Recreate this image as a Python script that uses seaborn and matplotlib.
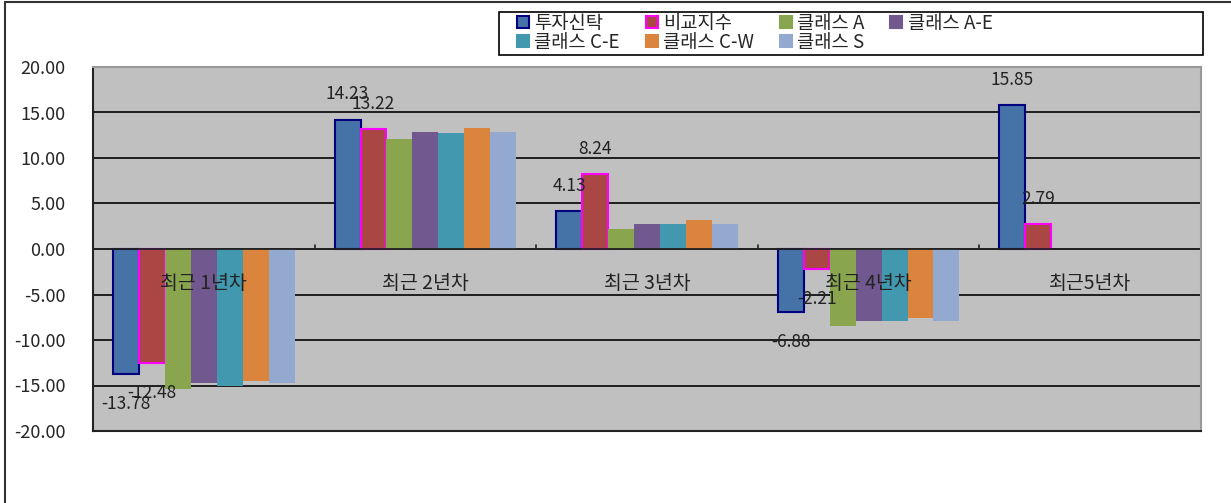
import numpy as np
import pandas as pd
import matplotlib
matplotlib.use("Agg")
import matplotlib.pyplot as plt
import seaborn as sns
from matplotlib.lines import Line2D
from matplotlib.patches import Rectangle

# 데이터
periods = ["최근 1년차", "최근 2년차", "최근 3년차", "최근 4년차", "최근5년차"]
series_names = ["투자신탁", "비교지수", "클래스 A", "클래스 A-E",
                "클래스 C-E", "클래스 C-W", "클래스 S"]
fund = [-13.78, 14.23, 4.13, -6.88, 15.85]
bench = [-12.48, 13.22, 8.24, -2.21, 2.79]
class_a = [-15.4, 12.1, 2.2, -8.5, np.nan]
class_ae = [-14.7, 12.9, 2.8, -7.9, np.nan]
class_ce = [-15.0, 12.7, 2.8, -7.9, np.nan]
class_cw = [-14.5, 13.3, 3.2, -7.55, np.nan]
class_s = [-14.7, 12.9, 2.8, -7.9, np.nan]
yticks = [-20, -15, -10, -5, 0, 5, 10, 15, 20]

colors = ["#4572A7", "#AA4643", "#89A54E", "#71588F",
          "#4198AF", "#DB843D", "#93A9CF"]
edges = ["#000080", "#FF00FF", None, None, None, None, None]

all_series = [fund, bench, class_a, class_ae, class_ce, class_cw, class_s]
df = pd.DataFrame([
    {"period": p, "series": s, "value": v}
    for s, vals in zip(series_names, all_series)
    for p, v in zip(periods, vals)
])

sns.set_style("white")
plt.rcParams["font.family"] = ["Noto Sans CJK KR", "DejaVu Sans"]

fig = plt.figure(figsize=(12.31, 5.03), dpi=100)
W, H = 1231, 503
ax = fig.add_axes([93 / W, 1 - 431 / H, (1201 - 93) / W, (431 - 67) / H])
ax.set_facecolor("#C0C0C0")

sns.barplot(data=df, x="period", y="value", hue="series",
            order=periods, hue_order=series_names, palette=colors,
            width=0.82, saturation=1, ax=ax, legend=False)

for cont, ec in zip(ax.containers, edges):
    for bar in cont:
        if ec:
            bar.set_edgecolor(ec)
            bar.set_linewidth(1.5)
        else:
            bar.set_linewidth(0)

# 데이터 레이블 (투자신탁, 비교지수)
for cont, vals in zip(ax.containers[:2], [fund, bench]):
    for bar, v in zip(cont, vals):
        x = bar.get_x() + bar.get_width() / 2
        off = 2.75 if v >= 0 else -3.3
        ax.text(x, v + off, f"{v:.2f}", ha="center", va="center",
                fontsize=12.5, color="#222222")

ax.set_ylim(-20, 20)
ax.set_xlim(-0.5, len(periods) - 0.5)
ax.set_yticks(yticks)
ax.set_yticklabels([f"{t:.2f}" for t in yticks], fontsize=13)
ax.yaxis.grid(True, color="#111111", linewidth=1.3)
ax.set_axisbelow(True)
ax.set_xlabel("")
ax.set_ylabel("")
ax.set_xticks([])
ax.tick_params(axis="y", length=0, pad=20)

# 카테고리 축 (0 위치)
ax.axhline(0, color="#222222", linewidth=1.3, zorder=1)
for i, p in enumerate(periods):
    ax.text(i, -3.8, p, ha="center", va="center", fontsize=14,
            color="#222222", zorder=5)
for b in np.arange(0.5, len(periods) - 0.5, 1):
    ax.plot([b, b], [0, 0.4], color="#222222", linewidth=1.2, zorder=1)

for side in ["top", "right"]:
    ax.spines[side].set_color("#999999")
    ax.spines[side].set_linewidth(1.5)
for side in ["left", "bottom"]:
    ax.spines[side].set_color("#222222")
    ax.spines[side].set_linewidth(1.5)

# 범례 (행 우선 순서) + 테두리 상자
handles = [Line2D([0], [0], marker="s", linestyle="none", markersize=8,
                  markerfacecolor=c, markeredgecolor=(e if e else c),
                  markeredgewidth=1.5)
           for c, e in zip(colors, edges)]
order = [0, 4, 1, 5, 2, 6, 3]
fig.legend([handles[i] for i in order],
           [series_names[i] for i in order], ncol=4, fontsize=13.5,
           loc="upper left", bbox_to_anchor=(511 / W, 1 - 10 / H),
           frameon=False, borderpad=0.15, labelspacing=-0.1,
           handletextpad=0.1, handlelength=1.0, columnspacing=1.2,
           borderaxespad=0)
fig.add_artist(Rectangle((499 / W, 1 - 55 / H), 704 / W, 43 / H,
                         transform=fig.transFigure, fill=False,
                         edgecolor="black", linewidth=1.2))

# 바깥 테두리
fig.add_artist(Line2D([5 / W, 5 / W], [0, 1 - 2 / H], color="#333333",
                      linewidth=1.5, transform=fig.transFigure))
fig.add_artist(Line2D([5 / W, 1], [1 - 2 / H, 1 - 2 / H], color="#333333",
                      linewidth=1.5, transform=fig.transFigure))

fig.savefig("out.png", dpi=100)
